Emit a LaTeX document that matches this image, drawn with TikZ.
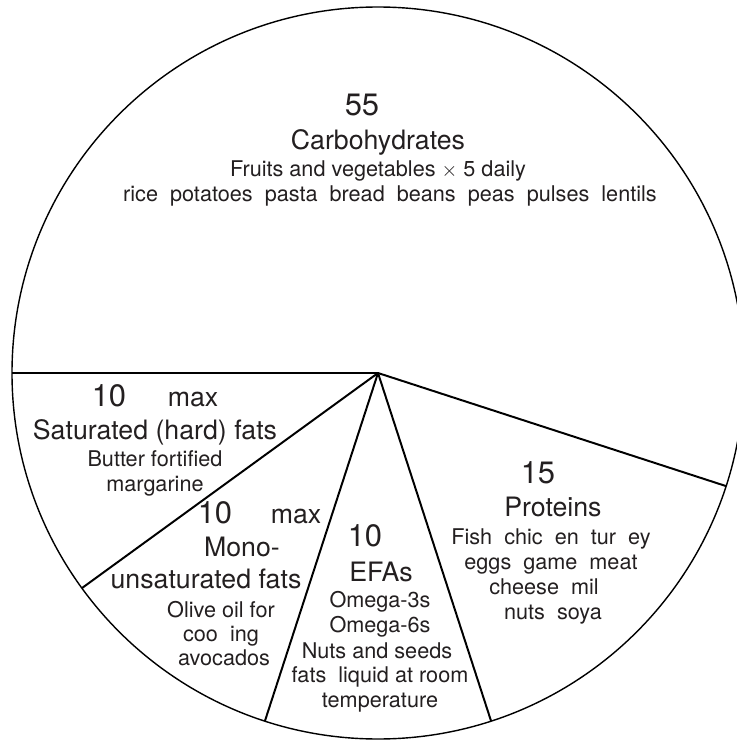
\documentclass[tikz,border=0pt]{standalone}
\usepackage{fontspec}
\setmainfont{TeX Gyre Heros}
\definecolor{ink}{HTML}{231F20}
\begin{document}
\begin{tikzpicture}[
  num/.style={text=ink, inner sep=0pt, text height=1.5ex, text depth=0.25ex, font=\fontsize{22}{26}\selectfont},
  ttl/.style={text=ink, inner sep=0pt, text height=1.5ex, text depth=0.25ex, font=\fontsize{19}{22}\selectfont},
  info/.style={text=ink, inner sep=0pt, text height=1.5ex, text depth=0.25ex, font=\fontsize{15.4}{18}\selectfont}]
% Marco de la figura (el circulo se sale un poco por la derecha)
\useasboundingbox (-9.45,-9.25) rectangle (8.975,9.325);
\def\R{9.15}
\coordinate (o) at (0,0);
\draw[line width=1pt] (o) circle (\R);
% Radios que separan los sectores: 55, 10, 10, 10 y 15 por ciento
\foreach \a in {180,216,252,288,342}
  \draw[line width=1.4pt] (o) -- (\a:\R);

% Los textos van en un scope para poder bajarlos todos juntos
\begin{scope}[yshift=-0.125cm]
% Hidratos de carbono
\node[num] (carbnum) at (-0.4,6.675) {55};
\node[ttl] (carbttl) at (0,5.825) {Carbohydrates};
\node[info] (carbfruit) at (0,5.15) {Fruits and vegetables $\times$ 5 daily};
\node[info] (carbrice) at (0.3,4.525) {rice~~potatoes~~pasta~~bread~~beans~~peas~~pulses~~lentils};

% Grasas saturadas
\node[num] (satnum) at (-6.725,-0.6) {10};
\node[ttl] (satmax) at (-4.625,-0.6) {max};
\node[ttl] (satttl) at (-5.575,-1.425) {Saturated (hard) fats};
\node[info] (satbutter) at (-5.575,-2.1) {Butter fortified};
\node[info] (satmarg) at (-5.575,-2.725) {margarine};

% Grasas monoinsaturadas
\node[num] (mononum) at (-4.075,-3.525) {10};
\node[ttl] (monomax) at (-2.05,-3.525) {max};
\node[ttl] (monottl) at (-3.4,-4.35) {Mono-};
\node[ttl] (monottlb) at (-4.3,-5.15) {unsaturated fats};
\node[info] (monooil) at (-3.925,-5.875) {Olive oil for};
\node[info] (monocook) at (-3.925,-6.475) {coo~~ing};
\node[info] (monoavo) at (-3.85,-7.075) {avocados};

% Acidos grasos esenciales
\node[num] (efanum) at (-0.325,-4.1) {10};
\node[ttl] (efattl) at (0.075,-4.975) {EFAs};
\node[info] (efa3) at (0.05,-5.625) {Omega-3s};
\node[info] (efa6) at (0.05,-6.25) {Omega-6s};
\node[info] (efanuts) at (-0.025,-6.9) {Nuts and seeds};
\node[info] (efaliq) at (0.05,-7.5) {fats~~liquid at room};
\node[info] (efatemp) at (0.05,-8.125) {temperature};

% Proteinas
\node[num] (protnum) at (4.0,-2.525) {15};
\node[ttl] (protttl) at (4.375,-3.35) {Proteins};
\node[info] (protfish) at (4.325,-4.05) {Fish~~chic~~en~~tur~~ey};
\node[info] (proteggs) at (4.325,-4.675) {eggs~~game~~meat};
\node[info] (protmilk) at (4.15,-5.3) {cheese~~mil};
\node[info] (protsoya) at (4.375,-5.925) {nuts~~soya};
\end{scope}
\end{tikzpicture}
\end{document}
